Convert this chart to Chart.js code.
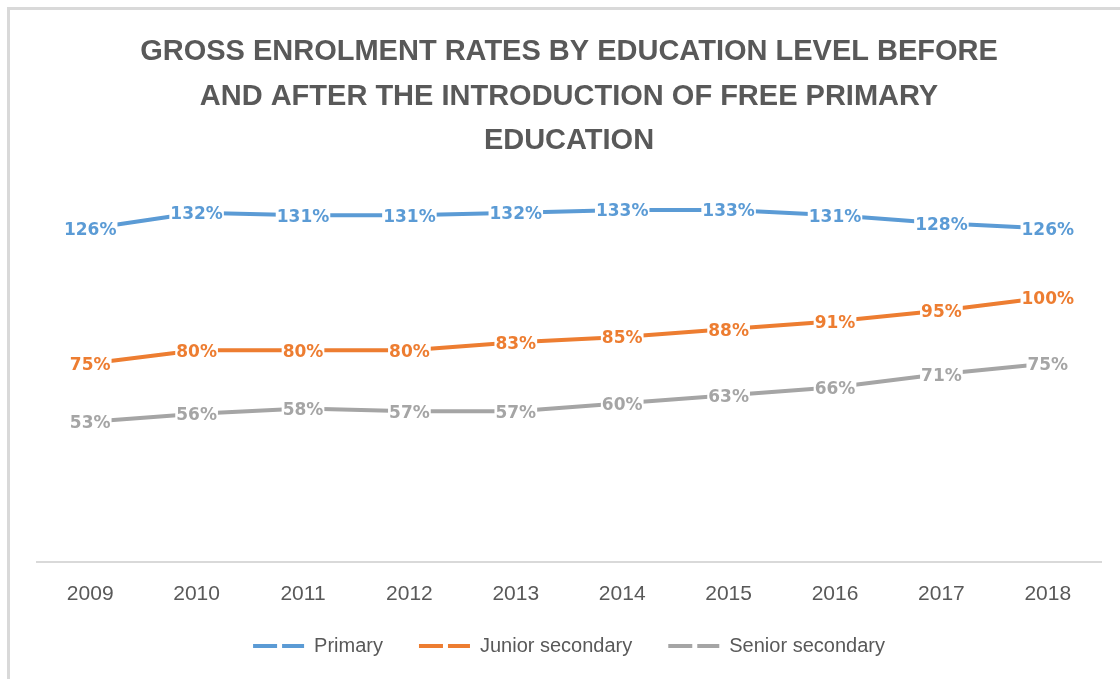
<!DOCTYPE html>
<html>
<head>
<meta charset="utf-8">
<title>Gross enrolment rates</title>
<script src="https://cdn.jsdelivr.net/npm/chart.js@4.4.1/dist/chart.umd.min.js"></script>
<style>
  html, body { margin: 0; padding: 0; background: #ffffff; overflow: hidden; }
  #wrap { position: relative; width: 1120px; height: 679px; }
  #frame {
    position: absolute; left: 7px; top: 7px; width: 1140px; height: 700px;
    border-top: 3px solid #d9d9d9; border-left: 3px solid #d9d9d9;
  }
  #chart { position: absolute; left: 0; top: 0; }
</style>
</head>
<body>
<div id="wrap">
  <div id="frame"></div>
  <canvas id="chart" width="1120" height="679"></canvas>
</div>
<script>
// Years on the category axis
const years = ['2009', '2010', '2011', '2012', '2013', '2014', '2015', '2016', '2017', '2018'];

// Gross enrolment rates (%)
const primary = [126, 132, 131, 131, 132, 133, 133, 131, 128, 126];
const juniorSecondary = [75, 80, 80, 80, 83, 85, 88, 91, 95, 100];
const seniorSecondary = [53, 56, 58, 57, 57, 60, 63, 66, 71, 75];

const seriesNames = ['Primary', 'Junior secondary', 'Senior secondary'];

const titleLines = [
  'GROSS ENROLMENT RATES BY EDUCATION LEVEL BEFORE',
  'AND AFTER THE INTRODUCTION OF FREE PRIMARY',
  'EDUCATION'
];

const COLORS = { blue: '#5b9bd5', orange: '#ed7d31', gray: '#a5a5a5', text: '#595959', axis: '#d9d9d9' };

// Percentage labels centred on each point, on a white box so the line stops at the text
const valueLabels = {
  id: 'valueLabels',
  afterDatasetsDraw(chart) {
    const ctx = chart.ctx;
    ctx.save();
    ctx.font = 'bold 17px "DejaVu Sans", sans-serif';
    ctx.textAlign = 'center';
    ctx.textBaseline = 'middle';
    chart.data.datasets.forEach((ds, i) => {
      const meta = chart.getDatasetMeta(i);
      meta.data.forEach((pt, j) => {
        const txt = ds.data[j] + '%';
        const w = ctx.measureText(txt).width;
        ctx.fillStyle = '#ffffff';
        ctx.fillRect(pt.x - w / 2 - 1, pt.y - 8, w + 2, 19);
        ctx.fillStyle = ds.borderColor;
        ctx.fillText(txt, pt.x, pt.y + 2);
      });
    });
    ctx.restore();
  }
};

function makeSeries(label, data, color) {
  return {
    label, data,
    borderColor: color,
    backgroundColor: color,
    borderWidth: 4,
    borderCapStyle: 'round',
    borderJoinStyle: 'round',
    pointRadius: 0,
    tension: 0,
    fill: false
  };
}

new Chart(document.getElementById('chart'), {
  type: 'line',
  data: {
    labels: years,
    datasets: [
      makeSeries(seriesNames[0], primary, COLORS.blue),
      makeSeries(seriesNames[1], juniorSecondary, COLORS.orange),
      makeSeries(seriesNames[2], seniorSecondary, COLORS.gray)
    ]
  },
  options: {
    responsive: false,
    animation: false,
    layout: { padding: { left: 37, right: 19, top: 0, bottom: 13 } },
    plugins: {
      title: {
        display: true,
        text: titleLines,
        color: COLORS.text,
        font: { family: '"Liberation Sans", Arial, sans-serif', size: 29, weight: 'bold', lineHeight: 44.5 / 29 },
        padding: { top: 30, bottom: 28 }
      },
      legend: {
        position: 'bottom',
        labels: {
          color: COLORS.text,
          font: { family: '"Liberation Sans", Arial, sans-serif', size: 20 },
          usePointStyle: true,
          pointStyle: 'line',
          pointStyleWidth: 51,
          padding: 36,
          generateLabels(chart) {
            const items = Chart.defaults.plugins.legend.labels.generateLabels(chart);
            items.forEach(it => {
              it.pointStyle = 'line';
              it.lineDash = [24, 5];
              it.lineCap = 'butt';
              it.lineWidth = 4;
            });
            return items;
          }
        }
      },
      tooltip: { enabled: false }
    },
    scales: {
      x: {
        offset: true,
        grid: { display: false, drawTicks: false },
        border: { display: true, color: COLORS.axis, width: 2 },
        ticks: {
          color: COLORS.text,
          font: { family: '"Liberation Sans", Arial, sans-serif', size: 21 },
          padding: 20,
          maxRotation: 0
        },
        afterFit(scale) { scale.height = 38; }
      },
      y: { display: false, min: 0, max: 140 }
    }
  },
  plugins: [valueLabels]
});
</script>
</body>
</html>
